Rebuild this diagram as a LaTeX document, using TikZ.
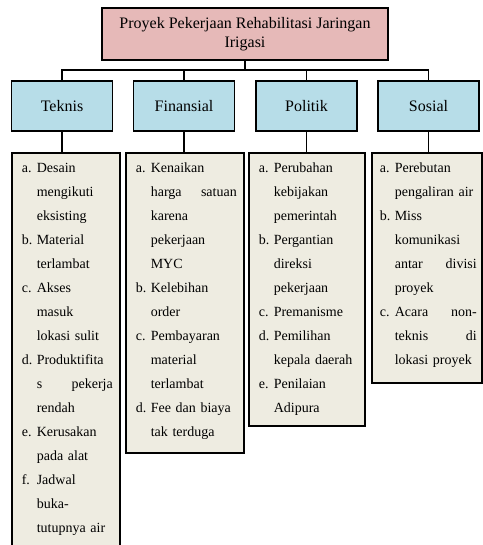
\documentclass[tikz,border=0pt]{standalone}
\usepackage{fontspec}
\setmainfont{Liberation Serif}
\usetikzlibrary{positioning}
\definecolor{judulmerah}{HTML}{E6B9B8}
\definecolor{aspekbiru}{HTML}{B7DDE8}
\definecolor{isikrem}{HTML}{EEECE1}
\newcommand{\itm}[1]{\makebox[18pt][l]{\hspace*{3pt}#1}}
\newcommand{\cnt}{\hspace*{18pt}}
\newcommand{\awal}{\rule{0pt}{20pt}}
\newcommand{\akhir}[1][18pt]{\rule[-#1]{0pt}{#1}}

\begin{document}
\begin{tikzpicture}[x=1pt, y=-1pt, line width=1.6pt,
  judul/.style={draw, fill=judulmerah, minimum width=286pt, minimum height=52pt, align=center, font=\fontsize{16}{19}\selectfont},
  aspek/.style={draw, fill=aspekbiru, minimum width=101pt, minimum height=50pt, font=\fontsize{16}{19}\selectfont},
  isi/.style={draw, fill=isikrem, anchor=north west, inner xsep=7pt, inner ysep=0pt, font=\fontsize{14}{24}\selectfont}]
\useasboundingbox (0,0) rectangle (482,545);

\node[judul] (proyek) at (245,34) {Proyek Pekerjaan Rehabilitasi Jaringan\\Irigasi};
\coordinate (bus) at (0,70);

\node[aspek] (teknis) at (62,106) {Teknis};
\node[aspek] (finansial) at (184,106) {Finansial};
\node[aspek] (politik) at (306.5,106) {Politik};
\node[aspek] (sosial) at (428.5,106) {Sosial};

\node[isi, text width=94pt] (teknis-isi) at (11,152) {\awal\itm{a.}Desain\\
\cnt mengikuti\\
\cnt eksisting\\
\itm{b.}Material\\
\cnt terlambat\\
\itm{c.}Akses\\
\cnt masuk\\
\cnt lokasi sulit\\
\itm{d.}Produktifita\\
\cnt s\hfill pekerja\\
\cnt rendah\\
\itm{e.}Kerusakan\\
\cnt pada alat\\
\itm{f.}Jadwal\\
\cnt buka-\\
\cnt tutupnya air\akhir[40pt]};

\node[isi, text width=104pt] (finansial-isi) at (125,152) {\awal\itm{a.}Kenaikan\\
\cnt harga\hfill satuan\\
\cnt karena\\
\cnt pekerjaan\\
\cnt MYC\\
\itm{b.}Kelebihan\\
\cnt order\\
\itm{c.}Pembayaran\\
\cnt material\\
\cnt terlambat\\
\itm{d.}Fee dan biaya\\
\cnt tak terduga\akhir[16pt]};

\node[isi, text width=102pt] (politik-isi) at (248,152) {\awal\itm{a.}Perubahan\\
\cnt kebijakan\\
\cnt pemerintah\\
\itm{b.}Pergantian\\
\cnt direksi\\
\cnt pekerjaan\\
\itm{c.}Premanisme\\
\itm{d.}Pemilihan\\
\cnt kepala daerah\\
\itm{e.}Penilaian\\
\cnt Adipura\akhir[13pt]};

\node[isi, text width=100pt, inner xsep=5pt] (sosial-isi) at (371,152) {\awal\itm{a.}Perebutan\\
\cnt \mbox{pengaliran air}\\
\itm{b.}Miss\\
\cnt komunikasi\\
\cnt antar\hfill divisi\\
\cnt proyek\\
\itm{c.}Acara\hfill non-\\
\cnt teknis\hfill di\\
\cnt lokasi proyek\akhir};

\foreach \n in {teknis,finansial,politik,sosial} {
  \draw (proyek.south) -- (proyek.south |- bus) -| (\n.north);
  \draw (\n.south) -- (\n.south |- \n-isi.north);
}
\end{tikzpicture}
\end{document}
